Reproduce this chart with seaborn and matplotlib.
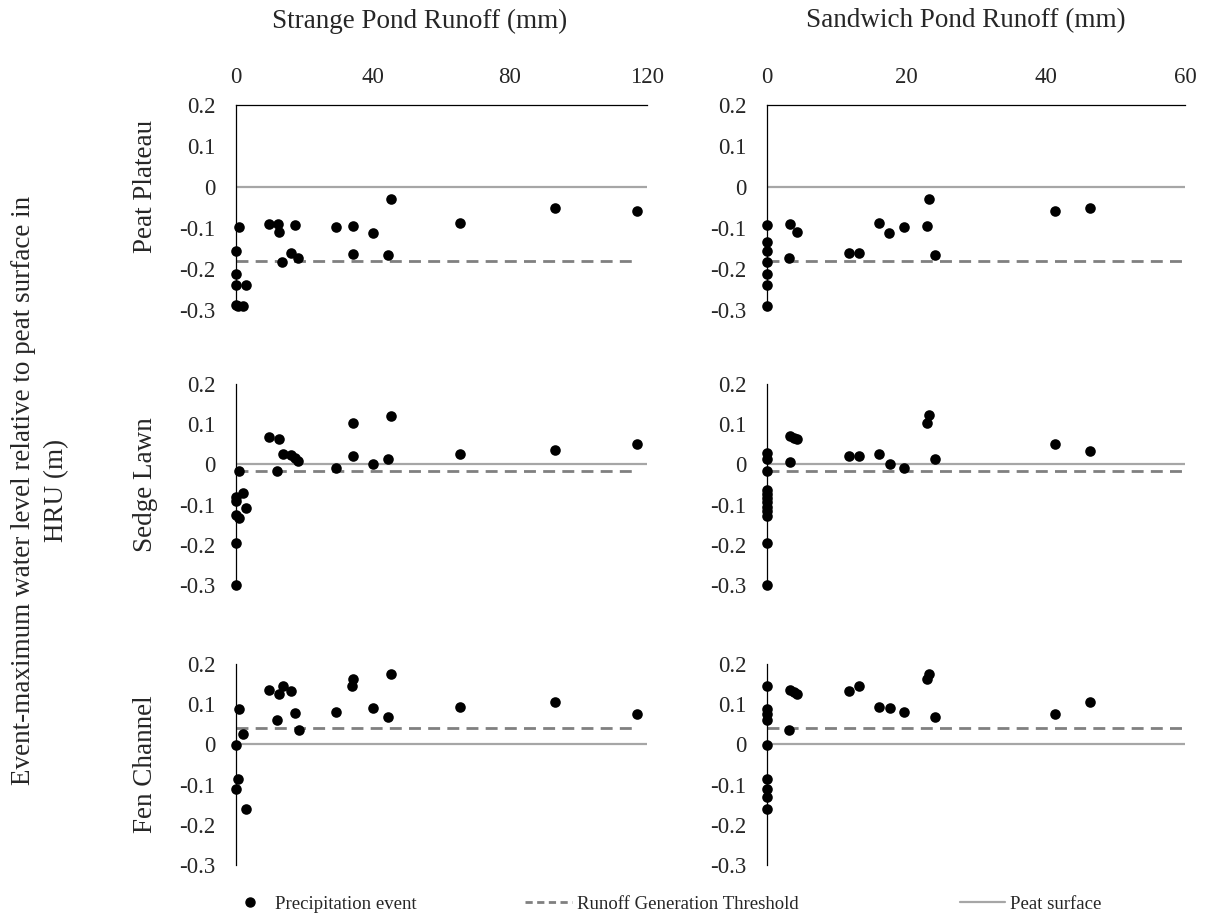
import numpy as np
import pandas as pd
import matplotlib
matplotlib.use("Agg")
import matplotlib.pyplot as plt
from matplotlib.lines import Line2D
import seaborn as sns

# ---- data: event runoff (mm) vs event-maximum water level (m) ----
hru_names = ["Peat Plateau", "Sedge Lawn", "Fen Channel"]
basin_titles = ["Strange Pond Runoff (mm)", "Sandwich Pond Runoff (mm)"]
basin_xmax = [120, 60]
basin_xticks = [[0, 40, 80, 120], [0, 20, 40, 60]]
y_ticks = [0.2, 0.1, 0.0, -0.1, -0.2, -0.3]
y_ticklabels = ["0.2", "0.1", "0", "-0.1", "-0.2", "-0.3"]

# runoff generation threshold per HRU (m)
thresholds = [-0.18, -0.017, 0.041]
peat_surface = 0.0

# Strange Pond
pp_strange_x = [1.0, 0, 0, 0, 2.9, 0, 0.7, 2.1, 9.6, 12.2, 12.7, 17.1, 13.5, 16.1,
                18.2, 29.3, 34.1, 34.1, 40.0, 45.2, 44.5, 65.5, 93.2, 117.0]
pp_strange_y = [-0.098, -0.155, -0.212, -0.238, -0.238, -0.288, -0.291, -0.290,
                -0.091, -0.091, -0.109, -0.093, -0.184, -0.160, -0.173, -0.098,
                -0.095, -0.163, -0.111, -0.030, -0.167, -0.087, -0.050, -0.058]

sl_strange_x = [1.0, 0, 0, 2.1, 2.9, 0, 0.8, 0, 0, 9.6, 12.6, 12.1, 13.7, 16.1,
                17.2, 18.2, 29.1, 34.1, 34.1, 39.9, 45.2, 44.4, 65.5, 93.2, 117.0]
sl_strange_y = [-0.017, -0.080, -0.090, -0.071, -0.108, -0.125, -0.133, -0.196,
                -0.299, 0.069, 0.064, -0.017, 0.025, 0.023, 0.015, 0.008, -0.008,
                0.104, 0.020, 0.002, 0.121, 0.013, 0.026, 0.035, 0.051]

fc_strange_x = [1.0, 2.1, 0, 0.6, 0, 2.9, 9.6, 12.6, 13.7, 16.2, 12.1, 17.2, 18.3,
                29.3, 34.1, 33.9, 39.9, 45.2, 44.4, 65.5, 93.2, 117.0]
fc_strange_y = [0.088, 0.026, -0.002, -0.086, -0.111, -0.161, 0.135, 0.126, 0.146,
                0.134, 0.061, 0.078, 0.036, 0.081, 0.163, 0.146, 0.090, 0.174,
                0.069, 0.094, 0.105, 0.076]

# Sandwich Pond
pp_sandwich_x = [0, 0, 0, 0, 0, 0, 0, 3.35, 4.25, 3.2, 11.7, 13.2, 16.1, 17.5,
                 19.7, 23.3, 23.0, 24.1, 41.4, 46.4]
pp_sandwich_y = [-0.092, -0.135, -0.155, -0.184, -0.212, -0.238, -0.290, -0.090,
                 -0.109, -0.173, -0.162, -0.162, -0.087, -0.111, -0.097, -0.029,
                 -0.095, -0.167, -0.058, -0.050]

sl_sandwich_x = [0, 0, 0, 0, 0, 0, 0, 0, 0, 0, 0, 0, 3.35, 3.9, 4.3, 3.25, 11.7,
                 13.2, 16.1, 17.6, 19.7, 23.0, 23.3, 24.1, 41.4, 46.4]
sl_sandwich_y = [0.029, 0.014, -0.017, -0.063, -0.073, -0.083, -0.094, -0.105,
                 -0.115, -0.129, -0.196, -0.299, 0.071, 0.066, 0.063, 0.007, 0.021,
                 0.020, 0.027, 0.002, -0.009, 0.103, 0.122, 0.014, 0.050, 0.034]

fc_sandwich_x = [0, 0, 0, 0, 0, 0, 0, 0, 0, 3.3, 3.9, 4.25, 3.2, 11.7, 13.2, 16.1,
                 17.6, 19.7, 22.9, 23.3, 24.1, 41.4, 46.4]
fc_sandwich_y = [0.146, 0.088, 0.076, 0.061, -0.002, -0.086, -0.111, -0.132,
                 -0.161, 0.135, 0.131, 0.125, 0.036, 0.133, 0.146, 0.094, 0.090,
                 0.081, 0.163, 0.175, 0.069, 0.076, 0.105]

panels = [
    [(pp_strange_x, pp_strange_y), (pp_sandwich_x, pp_sandwich_y)],
    [(sl_strange_x, sl_strange_y), (sl_sandwich_x, sl_sandwich_y)],
    [(fc_strange_x, fc_strange_y), (fc_sandwich_x, fc_sandwich_y)],
]

# ---- styling ----
sns.set_style("white")
plt.rcParams["font.family"] = ["Liberation Serif", "DejaVu Serif"]

W, H = 1205, 918
fig = plt.figure(figsize=(W / 100, H / 100), dpi=100)

surface_color = "#a6a6a6"
threshold_color = "#808080"
dash_style = (0, (4.3, 2.6))

col_left = [236, 767]
col_right = [647, 1185]
row_top = [105, 384, 664]
row_bot = [310, 585, 865]
# vertical centre of each row title (top row includes its tick-label band)
row_label_y = [186, 484.5, 764.5]

tick_fs = 16.5
title_fs = 19.5

for r in range(3):
    for c in range(2):
        x0 = col_left[c] / W
        w = (col_right[c] - col_left[c]) / W
        y0 = 1 - row_bot[r] / H
        h = (row_bot[r] - row_top[r]) / H
        ax = fig.add_axes([x0, y0, w, h])
        xs, ys = panels[r][c]
        df = pd.DataFrame({"runoff": xs, "level": ys})

        xmax = basin_xmax[c]
        # peat surface reference
        ax.plot([0, xmax], [peat_surface, peat_surface], color=surface_color,
                lw=1.6, zorder=1, solid_capstyle="butt")
        # runoff generation threshold
        t_end = df["runoff"].max() if c == 0 else xmax
        ax.plot([0, t_end], [thresholds[r], thresholds[r]], color=threshold_color,
                lw=2.0, ls=dash_style, zorder=1)

        sns.scatterplot(data=df, x="runoff", y="level", ax=ax, color="black",
                        s=58, linewidth=0, zorder=3, clip_on=False, legend=False)

        ax.set_xlim(0, xmax)
        ax.set_ylim(-0.3, 0.2)
        ax.set_xlabel("")
        ax.set_ylabel("")
        ax.set_yticks(y_ticks)
        ax.set_yticklabels(y_ticklabels, fontsize=tick_fs)
        ax.tick_params(axis="y", length=0, pad=15)

        for side in ["right", "bottom"]:
            ax.spines[side].set_visible(False)
        ax.spines["left"].set_color("black")
        ax.spines["left"].set_linewidth(0.9)
        ax.spines["left"].set_zorder(2)

        if r == 0:
            ax.xaxis.tick_top()
            ax.set_xticks(basin_xticks[c])
            ax.set_xticklabels([str(v) for v in basin_xticks[c]], fontsize=tick_fs)
            ax.tick_params(axis="x", length=0, pad=12)
            ax.spines["top"].set_color("black")
            ax.spines["top"].set_linewidth(0.9)
        else:
            ax.spines["top"].set_visible(False)
            ax.set_xticks([])

        ax.set_facecolor("none")

        if c == 0:
            fig.text(146 / W, 1 - row_label_y[r] / H, hru_names[r], rotation=90,
                     ha="center", va="center", fontsize=title_fs)

# column titles
fig.text(420 / W, 1 - 21 / H, basin_titles[0], ha="center", va="center",
         fontsize=title_fs)
fig.text(966 / W, 1 - 21 / H, basin_titles[1], ha="center", va="center",
         fontsize=title_fs)

# shared y label
fig.text(40 / W, 1 - 490 / H,
         "Event-maximum water level relative to peat surface in\nHRU (m)",
         rotation=90, ha="center", va="center", multialignment="center",
         fontsize=title_fs, linespacing=1.45)

# legend entries along the bottom
leg_fs = 13.5
em = leg_fs * 100 / 72
leg_y = 1 - 904 / H
h_pt = Line2D([], [], ls="none", marker="o", color="black", markersize=6.5)
h_thr = Line2D([], [], color=threshold_color, lw=2.0, ls=(0, (2.6, 1.6)))
h_srf = Line2D([], [], color=surface_color, lw=1.6)

fig.legend([h_pt], ["Precipitation event"], loc="center left",
           bbox_to_anchor=((250 - 0.5 * em) / W, leg_y), frameon=False,
           fontsize=leg_fs, borderpad=0, borderaxespad=0, handlelength=1.0,
           handletextpad=(275 - 250 - 0.5 * em) / em)
fig.legend([h_thr], ["Runoff Generation Threshold"], loc="center left",
           bbox_to_anchor=(525 / W, leg_y), frameon=False, fontsize=leg_fs,
           borderpad=0, borderaxespad=0, handlelength=47 / em,
           handletextpad=5 / em)
fig.legend([h_srf], ["Peat surface"], loc="center left",
           bbox_to_anchor=(960 / W, leg_y), frameon=False, fontsize=leg_fs,
           borderpad=0, borderaxespad=0, handlelength=45 / em,
           handletextpad=5 / em)

fig.savefig("out.png", dpi=100, facecolor="white")
